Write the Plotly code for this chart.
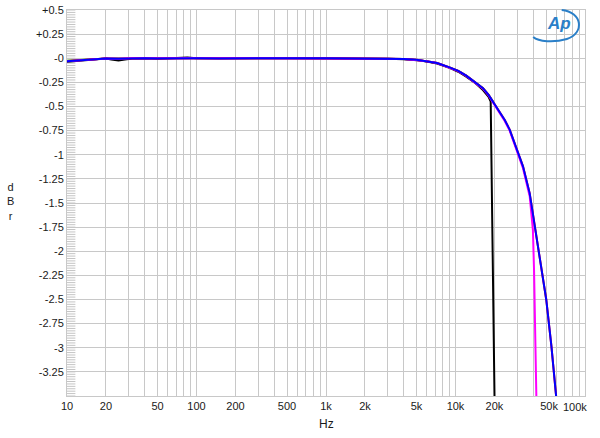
import math
import plotly.graph_objects as go

# ---- data ----
blue_f = [10, 12, 15, 20, 25, 30, 40, 50, 70, 85, 100, 150, 200, 300, 500, 1000, 2000, 3000, 4000,
          5000, 6000, 7200, 9000, 10500, 12100, 14000, 16300, 18000, 19500, 22000, 24000, 26200,
          29500, 33200, 37400, 41000, 44700, 50200, 55000, 60000, 61000]
blue_db = [-0.03, -0.022, -0.013, -0.003, -0.004, 0.0, 0.0, -0.002, 0.0, 0.004, 0.0, -0.002, 0.0, 0.0,
           0.0, 0.0, -0.002, -0.004, -0.008, -0.016, -0.03, -0.05, -0.095, -0.13, -0.18, -0.24, -0.31,
           -0.38, -0.45, -0.55, -0.64, -0.74, -0.92, -1.12, -1.40, -1.75, -2.09, -2.50, -2.98, -3.49, -3.62]

red_f = blue_f
red_db = [-0.028, -0.02, -0.012, -0.003, -0.004, 0.0, 0.0, -0.002, 0.0, 0.004, 0.0, -0.002, 0.0, 0.0,
          0.0, 0.0, -0.002, -0.004, -0.008, -0.016, -0.03, -0.05, -0.095, -0.13, -0.18, -0.24, -0.31,
          -0.38, -0.45, -0.55, -0.64, -0.74, -0.92, -1.12, -1.40, -1.75, -2.09, -2.50, -2.98, -3.49, -3.62]

green_f = [10, 12, 15, 20, 25, 30, 40, 50, 70, 85, 100, 200, 500, 1000, 2000, 3000, 4000, 5000, 6000,
           7200, 9000, 10500, 12100, 14000, 16300, 18000, 19500]
green_db = [-0.025, -0.018, -0.01, -0.002, -0.003, 0.0, 0.0, -0.001, 0.0, 0.005, 0.0, 0.0, 0.0, 0.0,
            -0.002, -0.004, -0.008, -0.016, -0.03, -0.05, -0.095, -0.13, -0.18, -0.24, -0.31, -0.38, -0.45]

black_f = [10, 12, 15, 20, 22, 25, 28, 32, 40, 50, 70, 85, 100, 150, 200, 300, 500, 1000, 2000, 3000,
           4000, 5000, 6000, 7200, 9000, 10500, 12100, 14000, 16300, 18000, 18700, 20050]
black_db = [-0.035, -0.025, -0.013, -0.002, -0.012, -0.022, -0.012, -0.002, 0.0, -0.004, 0.002, 0.008,
            0.0, -0.002, 0.0, 0.0, 0.0, 0.0, -0.002, -0.005, -0.01, -0.018, -0.033, -0.055, -0.10,
            -0.14, -0.19, -0.25, -0.33, -0.40, -0.45, -3.6]

magenta_f = [10, 12, 15, 20, 25, 30, 40, 50, 70, 85, 100, 200, 500, 1000, 2000, 3000, 4000, 5000, 6000,
             7200, 9000, 10500, 12100, 14000, 16300, 18000, 19500, 22000, 24000, 26200, 29500, 33200,
             37400, 39600, 40400, 41100, 42100, 42300]
magenta_db = [-0.03, -0.021, -0.012, -0.002, -0.005, 0.0, 0.0, -0.002, 0.0, 0.003, 0.0, 0.0, 0.0, 0.0,
              -0.002, -0.004, -0.008, -0.016, -0.03, -0.05, -0.097, -0.133, -0.183, -0.245, -0.315,
              -0.385, -0.455, -0.56, -0.65, -0.75, -0.94, -1.14, -1.43, -1.78, -2.19, -2.79, -3.5, -3.65]

x_tickvals = [10, 20, 30, 40, 50, 60, 70, 80, 90,
              100, 200, 300, 400, 500, 600, 700, 800, 900,
              1000, 2000, 3000, 4000, 5000, 6000, 7000, 8000, 9000,
              10000, 20000, 30000, 40000, 50000, 60000, 70000, 80000, 90000, 100000]
x_labels = {10: "10", 20: "20", 50: "50", 100: "100", 200: "200", 500: "500",
            1000: "1k", 2000: "2k", 5000: "5k", 10000: "10k", 20000: "20k",
            50000: "\u00a0\u00a050k"}
x_ticktext = [x_labels.get(v, "") for v in x_tickvals]
x_last_label = "100k"
x_last_value = 100000

y_tickvals = [0.5, 0.25, 0, -0.25, -0.5, -0.75, -1, -1.25, -1.5, -1.75, -2, -2.25, -2.5, -2.75, -3, -3.25, -3.5]
y_ticktext = ["+0.5", "+0.25", "-0", "-0.25", "-0.5", "-0.75", "-1", "-1.25", "-1.5", "-1.75", "-2",
              "-2.25", "-2.5", "-2.75", "-3", "-3.25", ""]
y_minor_step = 0.025

# ---- figure ----
fig = go.Figure()

# fine tick marks along the inside of the left edge (half of each dash is clipped by the axes)
minor_vals = [round(-3.5 + i * y_minor_step, 4) for i in range(int(round(4.0 / y_minor_step)) + 1)]
fig.add_trace(go.Scatter(x=[10] * len(minor_vals), y=minor_vals, mode="markers",
                         marker=dict(symbol="line-ew", size=12, color="#c4c4c4",
                                     line=dict(color="#c4c4c4", width=1)),
                         showlegend=False, hoverinfo="skip"))

traces = [
    (green_f, green_db, "#00b000"),
    (black_f, black_db, "#000000"),
    (red_f, red_db, "#ff0000"),
    (magenta_f, magenta_db, "#ff00ff"),
    (blue_f, blue_db, "#0000ff"),
]
for xs, ys, c in traces:
    fig.add_trace(go.Scatter(x=xs, y=ys, mode="lines", line=dict(color=c, width=2),
                             showlegend=False, hoverinfo="skip"))

grid = "#c8c8c8"
fig.update_layout(
    width=600, height=438,
    margin=dict(l=67, r=15, t=10, b=42),
    paper_bgcolor="white", plot_bgcolor="white",
    font=dict(family="Liberation Sans, Arial, sans-serif", size=11, color="#1a1a1a"),
    xaxis=dict(type="log", range=[0.99999, 5.00001], tickvals=x_tickvals, ticktext=x_ticktext,
               showgrid=True, gridcolor=grid, gridwidth=1, showline=True, linecolor=grid,
               mirror=True, ticks="", zeroline=False, tickangle=0, automargin=False,
               tickfont=dict(size=11)),
    yaxis=dict(range=[-3.5, 0.5], tickvals=y_tickvals, ticktext=y_ticktext,
               showgrid=True, gridcolor=grid, gridwidth=1, showline=True, linecolor=grid,
               mirror=True, ticks="", zeroline=False, automargin=False,
               tickfont=dict(size=11)),
    annotations=[
        dict(text=x_last_label, xref="x", yref="paper", x=math.log10(x_last_value), y=0,
             xanchor="right", yanchor="top", yshift=-3, xshift=4, showarrow=False,
             font=dict(size=11)),
        dict(text="Hz", xref="paper", yref="paper", x=0.5, y=-0.072, yanchor="middle",
             showarrow=False, font=dict(size=12)),
        dict(text="d<br>B<br>r", xref="paper", yref="paper", x=-0.109, y=0.505,
             xanchor="center", yanchor="middle", showarrow=False, font=dict(size=11)),
        dict(text="<i><b>Ap</b></i>", xref="paper", yref="paper", x=0.949, y=0.965,
             xanchor="center", yanchor="middle", showarrow=False,
             font=dict(size=17, color="#2a7fc8", family="Liberation Sans, Arial")),
    ],
    shapes=[
        dict(type="path", xref="paper", yref="paper",
             path="M 0.955 1.0 C 0.995 0.995, 1.0 0.94, 0.965 0.925 C 0.94 0.915, 0.91 0.918, 0.9 0.93",
             line=dict(color="#2a7fc8", width=2)),
    ],
)

fig.write_html("out.html", config={"displayModeBar": False},
               post_script="document.body.style.margin='0';")
